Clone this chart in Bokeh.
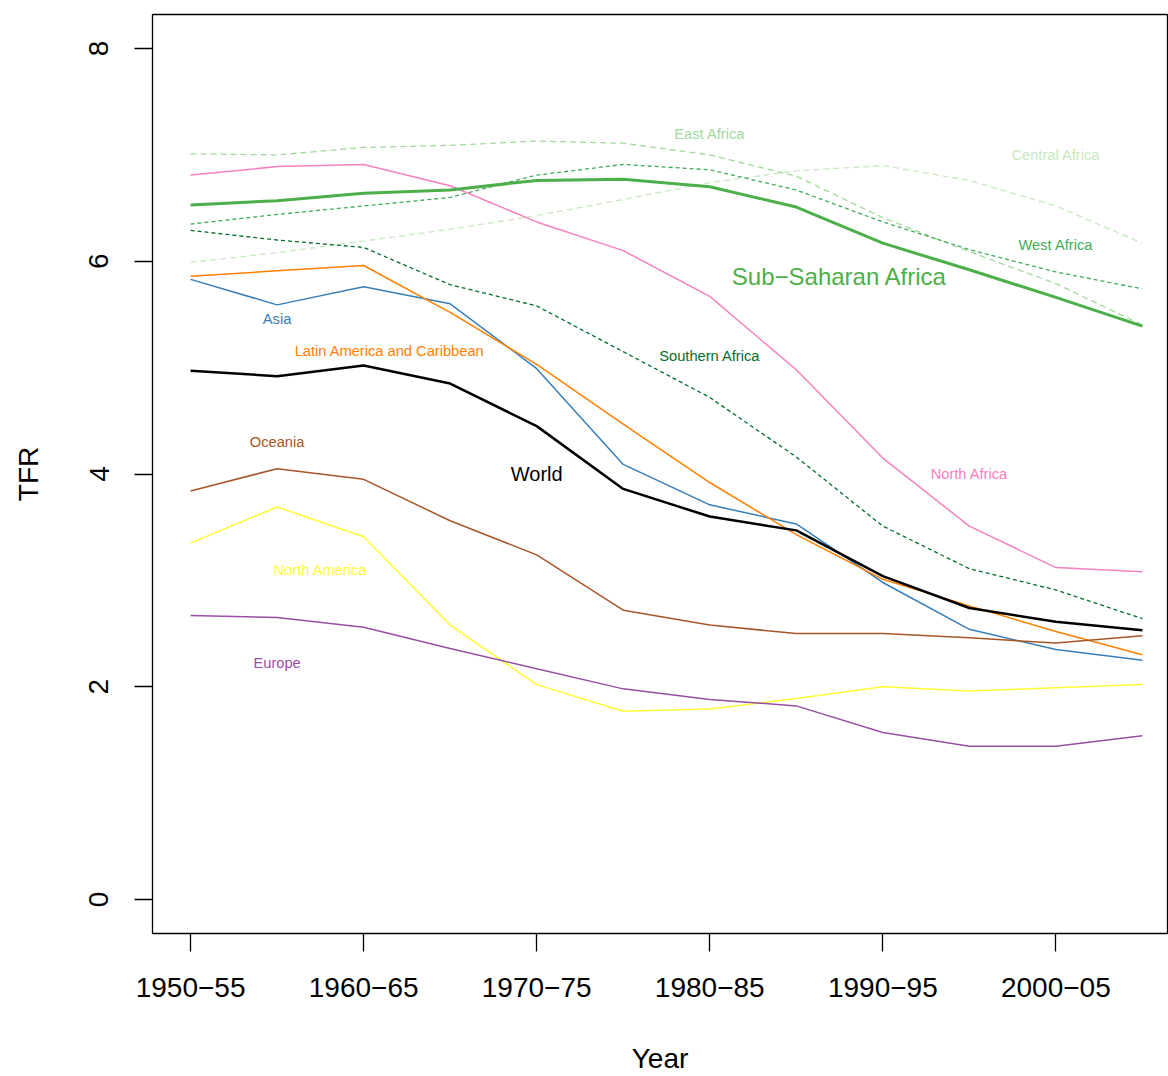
from bokeh.plotting import figure
from bokeh.models import Range1d, FixedTicker
from bokeh.embed import file_html
from bokeh.resources import INLINE
from bokeh.core.properties import value

# periods 1950-55 ... 2005-10, indexed 0..11
periods = list(range(12))
tick_labels = {0: "1950\u221255", 2: "1960\u221265", 4: "1970\u221275",
               6: "1980\u221285", 8: "1990\u221295", 10: "2000\u221205"}

world = [4.97, 4.92, 5.02, 4.85, 4.45, 3.86, 3.60, 3.47, 3.04, 2.74, 2.61, 2.53]
ssa = [6.53, 6.57, 6.64, 6.67, 6.76, 6.77, 6.70, 6.51, 6.17, 5.92, 5.66, 5.39]
asia = [5.83, 5.59, 5.76, 5.60, 4.99, 4.09, 3.71, 3.53, 2.98, 2.54, 2.35, 2.25]
latam = [5.86, 5.91, 5.96, 5.52, 5.03, 4.47, 3.92, 3.43, 3.01, 2.76, 2.52, 2.30]
oceania = [3.84, 4.05, 3.95, 3.56, 3.24, 2.72, 2.58, 2.50, 2.50, 2.46, 2.41, 2.48]
north_america = [3.35, 3.69, 3.41, 2.58, 2.02, 1.77, 1.79, 1.89, 2.00, 1.96, 1.99, 2.02]
europe = [2.67, 2.65, 2.56, 2.36, 2.17, 1.98, 1.88, 1.82, 1.57, 1.44, 1.44, 1.54]
north_africa = [6.81, 6.89, 6.91, 6.71, 6.37, 6.10, 5.67, 4.98, 4.15, 3.51, 3.12, 3.08]
east_africa = [7.01, 7.00, 7.07, 7.09, 7.13, 7.11, 7.00, 6.80, 6.41, 6.09, 5.79, 5.40]
central_africa = [5.99, 6.08, 6.19, 6.30, 6.43, 6.58, 6.74, 6.85, 6.90, 6.76, 6.52, 6.17]
west_africa = [6.35, 6.44, 6.52, 6.60, 6.81, 6.91, 6.86, 6.67, 6.37, 6.11, 5.90, 5.74]
southern_africa = [6.29, 6.20, 6.13, 5.78, 5.58, 5.15, 4.72, 4.16, 3.51, 3.11, 2.91, 2.64]

# (name, values, colour, width, dash, label x, label y, label size)
series = [
    ("Central Africa", central_africa, "#C7E9C0", 1.3, "6 4", 10.0, 7.00, "11pt"),
    ("East Africa", east_africa, "#A1D99B", 1.3, "6 4", 6.0, 7.20, "11pt"),
    ("West Africa", west_africa, "#41AB5D", 1.3, "4 3", 10.0, 6.15, "11pt"),
    ("Southern Africa", southern_africa, "#006D2C", 1.3, "4 3", 6.0, 5.11, "11pt"),
    ("North Africa", north_africa, "#F781BF", 1.5, "solid", 9.0, 4.00, "11pt"),
    ("Asia", asia, "#377EB8", 1.5, "solid", 1.0, 5.46, "11pt"),
    ("Latin America and Caribbean", latam, "#FF7F00", 1.5, "solid", 2.3, 5.16, "11pt"),
    ("Oceania", oceania, "#A65628", 1.5, "solid", 1.0, 4.30, "11pt"),
    ("North America", north_america, "#FFFF33", 1.5, "solid", 1.5, 3.10, "11pt"),
    ("Europe", europe, "#984EA3", 1.5, "solid", 1.0, 2.22, "11pt"),
    ("Sub\u2212Saharan Africa", ssa, "#4DAF4A", 3, "solid", 7.5, 5.86, "18pt"),
    ("World", world, "#000000", 2.5, "solid", 4.0, 4.00, "15pt"),
]

p = figure(width=1168, height=1076, output_backend="svg", toolbar_location=None,
           x_range=Range1d(-0.44, 11.29), y_range=Range1d(-0.32, 8.32),
           min_border_left=152, min_border_right=1, min_border_top=14,
           min_border_bottom=141, x_axis_label="Year", y_axis_label="TFR")
p.grid.visible = False
p.outline_line_color = "black"
p.outline_line_width = 1.3
p.background_fill_color = "white"

for name, vals, color, w, dash, lx, ly, fs in series:
    p.line(periods, vals, line_color=color, line_width=w, line_dash=dash)
    p.text([lx], [ly], text=[name], text_color=color, text_font_size=fs,
           text_align="center", text_baseline="middle",
           text_font=value("Liberation Sans"))

p.xaxis.ticker = FixedTicker(ticks=list(tick_labels.keys()))
p.xaxis.major_label_overrides = tick_labels
p.yaxis.ticker = FixedTicker(ticks=[0, 2, 4, 6, 8])
p.yaxis.major_label_orientation = "vertical"
for ax in (p.xaxis[0], p.yaxis[0]):
    ax.axis_line_color = None
    ax.major_tick_out = 18
    ax.major_tick_in = 0
    ax.minor_tick_out = 0
    ax.major_tick_line_width = 1.3
    ax.major_label_text_font_size = "21pt"
    ax.major_label_text_font = "Liberation Sans"
    ax.major_label_text_color = "black"
    ax.axis_label_text_font_size = "21pt"
    ax.axis_label_text_font = "Liberation Sans"
    ax.axis_label_text_font_style = "normal"
    ax.axis_label_text_color = "black"
    ax.major_label_standoff = 26
    ax.axis_label_standoff = 43

open("out.html", "w").write(file_html(p, INLINE))
